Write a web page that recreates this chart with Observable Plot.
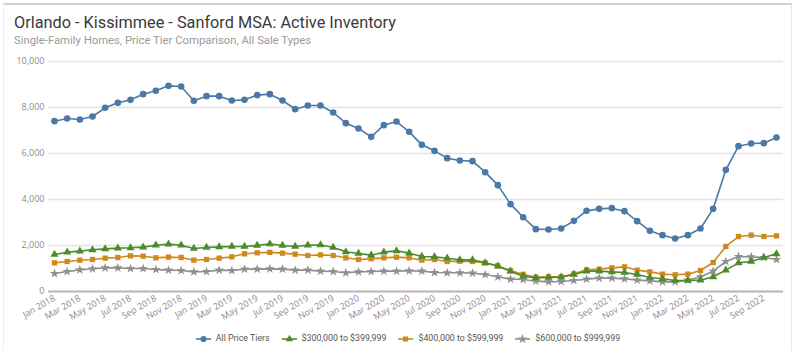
<!DOCTYPE html>
<html>
<head>
<meta charset="utf-8">
<script src="https://cdn.jsdelivr.net/npm/d3@7"></script>
<script src="https://cdn.jsdelivr.net/npm/@observablehq/plot@0.6"></script>
<style>
  html, body { margin: 0; padding: 0; background: #fff; }
  #wrap { position: relative; width: 800px; height: 351px; overflow: hidden; font-family: Roboto, "Open Sans", sans-serif; }
  #frame { position: absolute; left: 3px; top: 3px; width: 789px; height: 350px; border-top: 2px solid #d2d2d2; border-right: 1px solid #e6e6e6; border-left: 1px solid #f0f0f0; box-sizing: border-box; }
  #title { position: absolute; left: 14px; top: 14px; font-size: 16.3px; line-height: 18px; color: #3a3a3a; white-space: nowrap; }
  #subtitle { position: absolute; left: 14px; top: 34px; font-size: 11.3px; line-height: 13px; color: #9a9a9a; white-space: nowrap; }
  #chart { position: absolute; left: 0; top: 50px; }
  #legend { position: absolute; left: 8px; top: 332px; width: 800px; display: flex; justify-content: center; gap: 12px; font-size: 8.8px; color: #555; }
  #legend .item { display: flex; align-items: center; gap: 5px; line-height: 13px; }
</style>
</head>
<body>
<div id="wrap">
  <div id="frame"></div>
  <div id="title">Orlando - Kissimmee - Sanford MSA: Active Inventory</div>
  <div id="subtitle">Single-Family Homes, Price Tier Comparison, All Sale Types</div>
  <div id="chart"></div>
  <div id="legend"></div>
</div>
<script>
const months = [
  "Jan 2018","Feb 2018","Mar 2018","Apr 2018","May 2018","Jun 2018","Jul 2018","Aug 2018","Sep 2018","Oct 2018","Nov 2018","Dec 2018",
  "Jan 2019","Feb 2019","Mar 2019","Apr 2019","May 2019","Jun 2019","Jul 2019","Aug 2019","Sep 2019","Oct 2019","Nov 2019","Dec 2019",
  "Jan 2020","Feb 2020","Mar 2020","Apr 2020","May 2020","Jun 2020","Jul 2020","Aug 2020","Sep 2020","Oct 2020","Nov 2020","Dec 2020",
  "Jan 2021","Feb 2021","Mar 2021","Apr 2021","May 2021","Jun 2021","Jul 2021","Aug 2021","Sep 2021","Oct 2021","Nov 2021","Dec 2021",
  "Jan 2022","Feb 2022","Mar 2022","Apr 2022","May 2022","Jun 2022","Jul 2022","Aug 2022","Sep 2022","Oct 2022"
];
const xTickLabels = [
  "Jan 2018","Mar 2018","May 2018","Jul 2018","Sep 2018","Nov 2018",
  "Jan 2019","Mar 2019","May 2019","Jul 2019","Sep 2019","Nov 2019",
  "Jan 2020","Mar 2020","May 2020","Jul 2020","Sep 2020","Nov 2020",
  "Jan 2021","Mar 2021","May 2021","Jul 2021","Sep 2021","Nov 2021",
  "Jan 2022","Mar 2022","May 2022","Jul 2022","Sep 2022"
];
const yTicks = [0, 2000, 4000, 6000, 8000, 10000];

const allPriceTiers = [
  7406,7522,7478,7609,7986,8203,8333,8580,8725,8942,8913,8290,
  8493,8493,8304,8333,8536,8580,8304,7928,8087,8087,7783,7319,
  7087,6725,7232,7391,6942,6377,6116,5797,5696,5667,5188,4623,
  3797,3230,2710,2696,2739,3072,3507,3594,3623,3493,3058,2638,
  2449,2304,2449,2739,3594,5290,6319,6435,6449,6696
];
const tier300to399 = [
  1609,1710,1754,1812,1855,1884,1899,1928,2014,2058,2014,1870,
  1913,1942,1957,1957,2000,2070,2000,1957,2014,2029,1913,1725,
  1652,1580,1710,1768,1667,1522,1507,1449,1377,1377,1246,1101,
  884,665,594,609,623,739,884,884,855,826,739,609,
  551,478,478,493,638,928,1246,1304,1478,1638
];
const tier400to599 = [
  1246,1304,1362,1391,1449,1478,1551,1536,1464,1493,1478,1362,
  1391,1449,1507,1638,1681,1703,1667,1623,1565,1594,1565,1464,
  1391,1420,1464,1493,1464,1362,1391,1304,1319,1304,1246,1116,
  899,745,623,638,638,768,942,971,1029,1072,928,855,
  754,725,754,913,1261,1957,2391,2449,2391,2420
];
const tier600to999 = [
  783,870,942,986,1029,1029,1000,1000,957,928,913,855,
  870,928,913,971,971,985,971,928,928,884,870,812,
  855,870,884,884,899,884,826,812,812,797,739,638,
  536,522,449,420,435,478,536,580,580,551,493,464,
  420,420,493,638,884,1304,1522,1507,1478,1391
];

const seriesNames = ["All Price Tiers", "$300,000 to $399,999", "$400,000 to $599,999", "$600,000 to $999,999"];
const seriesColors = ["#4a79a8", "#4b8b2b", "#d0891c", "#8f8f8f"];
const seriesSymbols = ["circle", "triangle", "square", "star"];
const seriesValues = [allPriceTiers, tier300to399, tier400to599, tier600to999];

const data = seriesNames.flatMap((name, i) =>
  seriesValues[i].map((v, j) => ({series: name, month: months[j], value: v}))
);
const drawOrder = [3, 2, 1, 0];

const marks = [
  Plot.gridY(yTicks, {stroke: "#e4e4e4", strokeOpacity: 1, strokeWidth: 1.5}),
  Plot.ruleY([0], {stroke: "#b8b8b8", strokeWidth: 2}),
  Plot.axisY(yTicks, {tickSize: 0, tickPadding: 4, tickFormat: d3.format(","), fontSize: 9, fill: "#8a8a8a", label: null}),
  Plot.axisX(xTickLabels, {tickSize: 0, tickPadding: 6, tickRotate: -30, fontSize: 9, fill: "#8a8a8a", label: null})
];
for (const i of drawOrder) {
  const d = data.filter(r => r.series === seriesNames[i]);
  marks.push(Plot.line(d, {x: "month", y: "value", stroke: seriesColors[i], strokeWidth: 1.6}));
  marks.push(Plot.dot(d, {x: "month", y: "value", fill: seriesColors[i], stroke: "none", symbol: seriesSymbols[i], r: i === 0 ? 3.3 : 3}));
}

const chart = Plot.plot({
  width: 800,
  height: 280,
  marginLeft: 48,
  marginRight: 17,
  marginTop: 11,
  marginBottom: 39,
  x: {type: "point", domain: months, padding: 0, insetLeft: 6, insetRight: 7},
  y: {domain: [0, 10000]},
  style: {fontFamily: "'Open Sans', 'Noto Sans', sans-serif", background: "transparent"},
  marks
});
document.getElementById("chart").appendChild(chart);

const legend = document.getElementById("legend");
const symPaths = {
  circle: d3.symbol(d3.symbolCircle, 30)(),
  triangle: d3.symbol(d3.symbolTriangle, 24)(),
  square: d3.symbol(d3.symbolSquare, 26)(),
  star: d3.symbol(d3.symbolStar, 30)()
};
seriesNames.forEach((name, i) => {
  const item = document.createElement("div");
  item.className = "item";
  item.innerHTML = `<svg width="15" height="10"><line x1="0" x2="15" y1="5" y2="5" stroke="${seriesColors[i]}" stroke-width="1.6"/><path transform="translate(7.5,5)" d="${symPaths[seriesSymbols[i]]}" fill="${seriesColors[i]}"/></svg><span>${name}</span>`;
  legend.appendChild(item);
});
</script>
</body>
</html>
